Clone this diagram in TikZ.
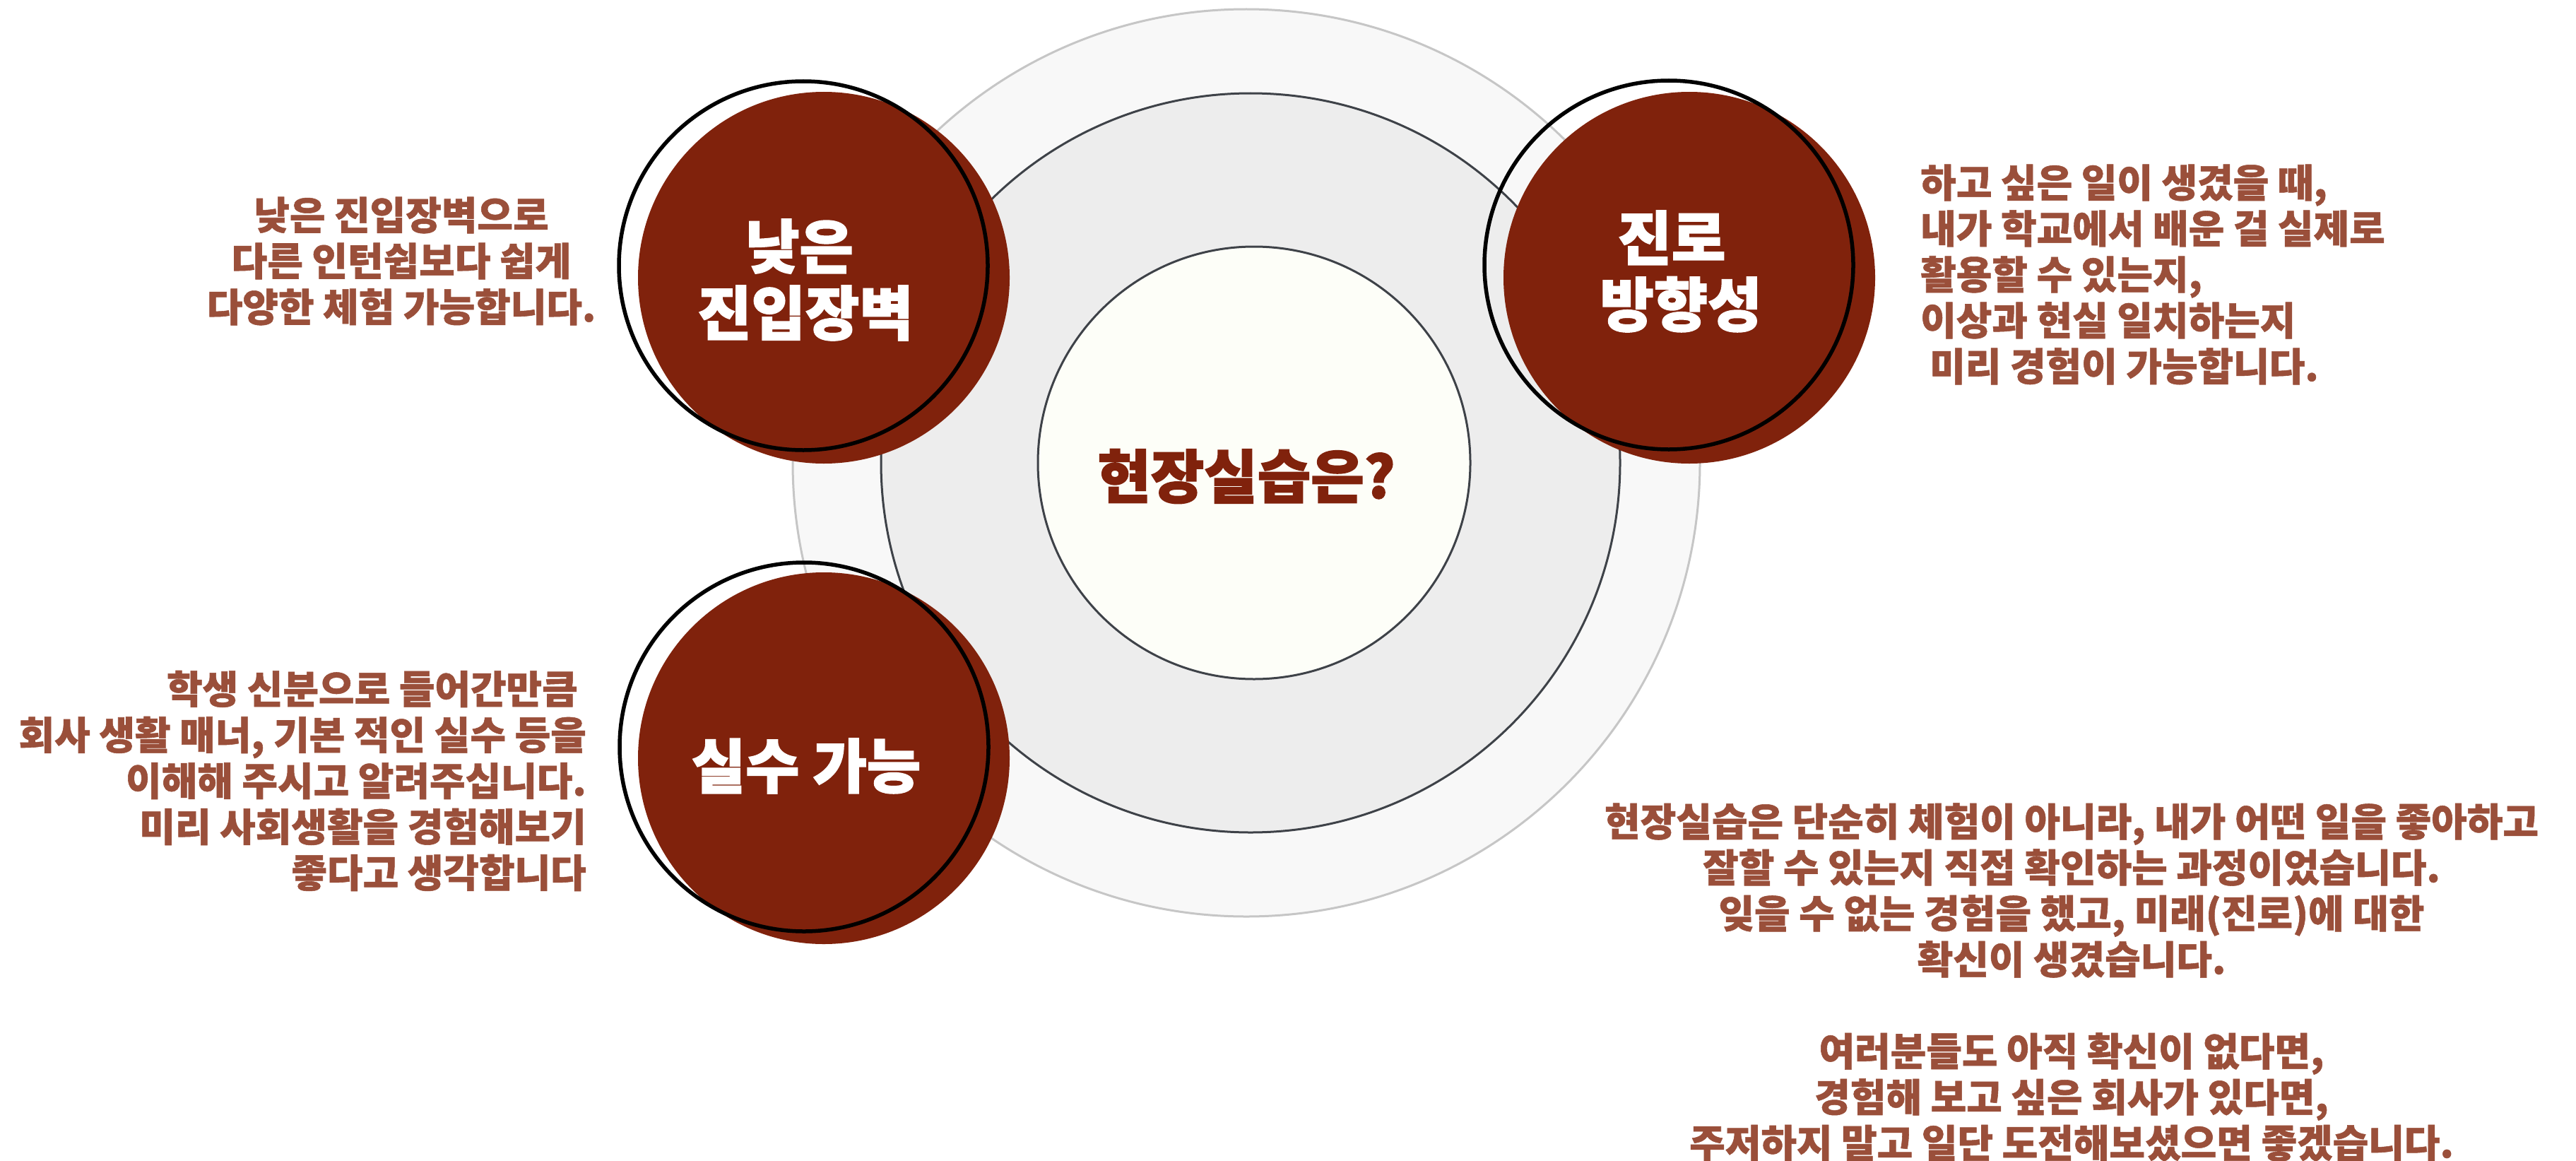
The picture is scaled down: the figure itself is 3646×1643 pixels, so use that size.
\documentclass[tikz,border=0pt]{standalone}
\usepackage{fontspec}
\newfontfamily\kr{Noto Sans CJK KR}[BoldFeatures={FakeBold=1}]
\newfontfamily\krh{Noto Sans CJK KR}[BoldFeatures={FakeBold=2}]
\definecolor{deepred}{HTML}{80220C}
\definecolor{txtbrown}{HTML}{9A4F3A}
\definecolor{outerfill}{HTML}{F8F8F8}
\definecolor{outerline}{HTML}{C6C6C6}
\definecolor{midfill}{HTML}{EDEDED}
\definecolor{ringline}{HTML}{3E4248}
\definecolor{innerfill}{HTML}{FDFEF8}
\tikzset{
  desc/.style={text=txtbrown, font=\kr\bfseries\fontsize{55}{65}\selectfont, inner sep=0pt},
  badge/.style={circle, fill=deepred, inner sep=0pt, minimum size=526pt},
  badgering/.style={circle, draw=black, line width=5.5pt, inner sep=0pt, minimum size=522pt},
  badgetext/.style={text=white, font=\krh\bfseries\fontsize{83}{94}\selectfont, align=center, inner sep=0pt},
  ring/.style={circle, inner sep=0pt, line width=3pt}
}
\begin{document}
\begin{tikzpicture}[x=1pt,y=-1pt]
\useasboundingbox (0,0) rectangle (3646,1643);
\fill[white] (0,0) rectangle (3646,1643);
% concentric rings
\node[ring, draw=outerline, fill=outerfill, minimum size=1284pt] (outer) at (1764,655) {};
\node[ring, draw=ringline, fill=midfill, minimum size=1046pt] (middle) at (1770,655) {};
\node[ring, draw=ringline, fill=innerfill, minimum size=612pt] (inner) at (1775,655) {};
\node[text=deepred, font=\krh\bfseries\fontsize{82}{90}\selectfont, inner sep=0pt] (title) at (1764,674) {현장실습은?};
% badges
\node[badge] (tlfill) at (1166,393) {};
\node[badge] (trfill) at (2391,393) {};
\node[badge] (blfill) at (1166,1073) {};
\node[badgering] (tlring) at (1137,376) {};
\node[badgering] (trring) at (2362,375) {};
\node[badgering] (blring) at (1138,1057) {};
\node[badgetext] (tltext) at (1140,396) {낮은\hspace*{17pt}\\진입장벽};
\node[badgetext] (trtext) at (2379,384) {진로\hspace*{26pt}\\방향성};
\node[badgetext] (bltext) at (1141,1084) {실수 가능};
% descriptions
\node[desc, align=center] (tldesc) at (568,369.5) {낮은 진입장벽으로\\다른 인턴쉽보다 쉽게\\다양한 체험 가능합니다.};
\node[desc, align=left, anchor=west] (trdesc) at (2718,388.5) {하고 싶은 일이 생겼을 때,\\내가 학교에서 배운 걸 실제로\\활용할 수 있는지,\\이상과 현실 일치하는지\\\hspace*{13pt}미리 경험이 가능합니다.};
\node[desc, align=right, anchor=east] (bldesc) at (830,1105) {학생 신분으로 들어간만큼\hspace*{12pt}\\회사 생활 매너, 기본 적인 실수 등을\\이해해 주시고 알려주십니다.\\미리 사회생활을 경험해보기\hspace*{12pt}\\좋다고 생각합니다};
\node[desc, align=center] (brdesc) at (2932,1390) {현장실습은 단순히 체험이 아니라, 내가 어떤 일을 좋아하고\\잘할 수 있는지 직접 확인하는 과정이었습니다.\\잊을 수 없는 경험을 했고, 미래(진로)에 대한\\확신이 생겼습니다.\\[65pt]여러분들도 아직 확신이 없다면,\\경험해 보고 싶은 회사가 있다면,\\주저하지 말고 일단 도전해보셨으면 좋겠습니다.};
\end{tikzpicture}
\end{document}
